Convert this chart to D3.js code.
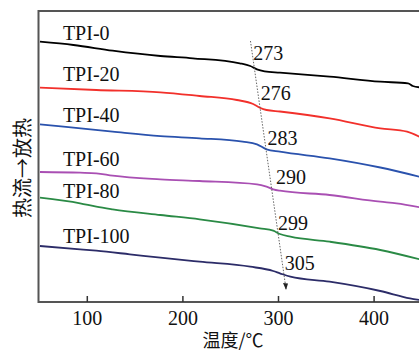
<!DOCTYPE html>
<html><head><meta charset="utf-8">
<script src="https://cdn.jsdelivr.net/npm/d3@7"></script>
<style>body{margin:0;background:#fff;overflow:hidden}svg{display:block}</style>
</head><body>
<script>
const series = ["TPI-0","TPI-20","TPI-40","TPI-60","TPI-80","TPI-100"];
const colors = ["#000000","#f2302b","#2a52ad","#a94fb3","#2a8a45","#2c2c68"];
const tpi0 = [[51,260.3],[86,257],[127,251.3],[177,246],[211,243.7],[260,238.7],[271,236],[278,232.7],[286,230.7],[302,229.3],[354,225.3],[407,220.3],[436,218.7],[441,216],[448,214.7]];
const tpi20 = [[51,214.3],[110,212],[177,209.7],[218,206],[257,202],[274,198],[281,194.3],[288,192],[302,190.5],[354,183.7],[407,173.7],[435,170.3],[448,165.3]];
const tpi40 = [[51,177.7],[86,174.3],[127,170.3],[177,165.8],[218,163.7],[263,160.3],[278,157.7],[288,152.7],[302,150.3],[354,143.7],[407,134.5],[448,125.3]];
const tpi60 = [[51,130],[93,129.3],[110,128.7],[127,126.3],[177,122.7],[218,121],[278,117.7],[288,115.3],[295,112.7],[302,111.3],[354,107],[407,100.3],[424,98.7],[448,94.7]];
const tpi80 = [[51,104.3],[93,98.7],[110,95.3],[127,92.7],[177,87],[218,82.7],[281,73.7],[295,71.3],[302,68],[313,65.3],[354,60.3],[407,52],[448,42.7]];
const tpi100 = [[51,56],[93,52.7],[110,51.3],[145,47.7],[177,44.3],[218,40.3],[271,35.3],[295,31],[302,28.7],[313,25.3],[354,20.3],[407,11],[438,3.7],[448,2]];
const seriesData = [tpi0,tpi20,tpi40,tpi60,tpi80,tpi100];
// series label anchor [T, value]
const labelPos = [[75,262],[75,221],[75,180],[75,136],[75,104],[75,59]];
const tgLabels = ["273","276","283","290","299","305"];
const tgPos = [[274,242],[282,202],[289,157],[298,118],[300,72],[307,32]];
const guide = [[271.2,261],[308.4,13]];
const xTicks = [100,200,300,400];
const xTitle = "温度/℃";
const yTitle = "热流→放热";

const W=419,H=352;
const svg=d3.select("body").append("svg").attr("width",W).attr("height",H);
const x=d3.scaleLinear().domain([50,450]).range([39,421.4]);
const y=d3.scaleLinear().domain([0,291]).range([302,11]);
const serif="'Liberation Serif','Times New Roman',serif";

// frame
svg.append("path").attr("d",`M${x(450)+5},${y(291)}H${x(50)-0.5}V${y(0)}H${x(450)+5}`)
  .attr("fill","none").attr("stroke","#555").attr("stroke-width",2);

const xa=d3.axisBottom(x).tickValues(xTicks).tickSizeInner(-6).tickSizeOuter(0).tickPadding(9);
const g=svg.append("g").attr("transform",`translate(0,${y(0)})`).call(xa);
g.select(".domain").remove();
g.selectAll(".tick line").attr("stroke","#333").attr("stroke-width",1.5);
g.selectAll(".tick text").attr("font-family",serif).attr("font-size",20).attr("fill","#111");

const line=d3.line().x(d=>x(d[0])).y(d=>y(d[1])).curve(d3.curveMonotoneX);
seriesData.forEach((s,i)=>{
  svg.append("path").datum(s).attr("d",line).attr("fill","none")
    .attr("stroke",colors[i]).attr("stroke-width",1.8);
  svg.append("text").attr("x",x(labelPos[i][0])).attr("y",y(labelPos[i][1]))
    .attr("font-family",serif).attr("font-size",20).attr("fill","#111").text(series[i]);
  svg.append("text").attr("x",x(tgPos[i][0])).attr("y",y(tgPos[i][1]))
    .attr("font-family",serif).attr("font-size",20).attr("fill","#111").text(tgLabels[i]);
});

// dotted guide with arrow
const gx1=x(guide[0][0]),gy1=y(guide[0][1]),gx2=x(guide[1][0]),gy2=y(guide[1][1]);
svg.append("line").attr("x1",gx1).attr("y1",gy1).attr("x2",gx2).attr("y2",gy2)
  .attr("stroke","#555").attr("stroke-width",0.9).attr("stroke-dasharray","1.5,1.5");
svg.append("path").attr("d",`M${gx2-3},${gy2-6}L${gx2+2},${gy2-5.5}L${gx2},${gy2+1}Z`).attr("fill","#222");

svg.append("text").attr("x",233).attr("y",347).attr("text-anchor","middle")
  .attr("font-family","'Noto Sans CJK SC',sans-serif").attr("font-size",18).attr("fill","#111").text(xTitle);
svg.append("text").attr("transform","translate(30,168) rotate(-90)").attr("text-anchor","middle")
  .attr("font-family","'Noto Sans CJK SC',sans-serif").attr("font-size",20).attr("fill","#111").text(yTitle);
</script>
</body></html>
